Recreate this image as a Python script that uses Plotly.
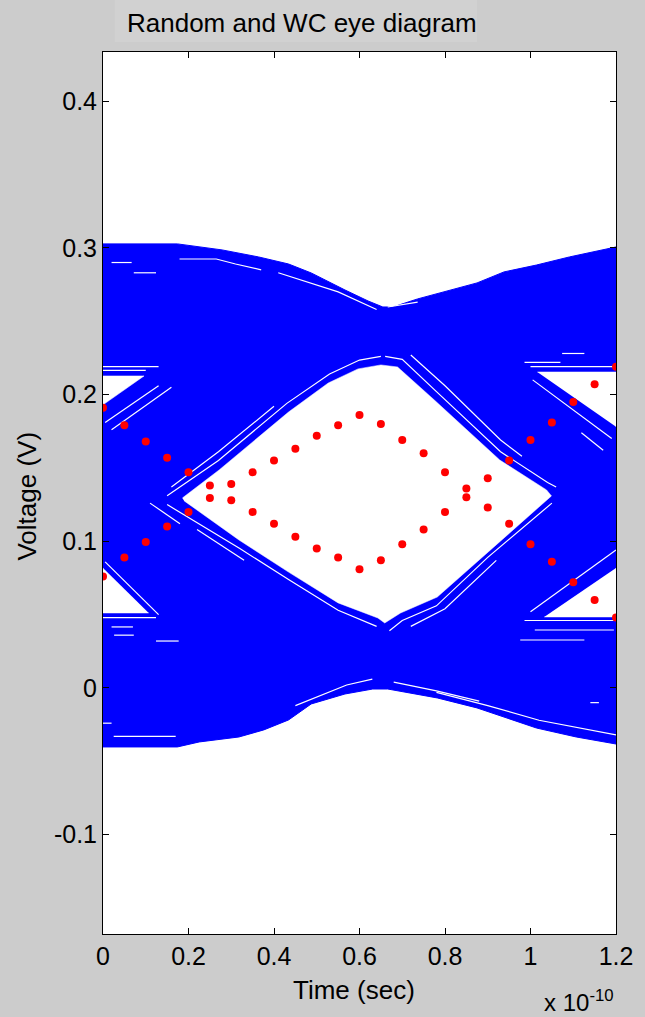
import plotly.graph_objects as go

# ---------------- data ----------------
# worst-case (WC) eye contour points, time in units of 1e-10 s
wc_time = [0, 0.05, 0.1, 0.15, 0.2, 0.25, 0.3, 0.35, 0.4, 0.45, 0.5, 0.55, 0.6,
           0.65, 0.7, 0.75, 0.8, 0.85, 0.9, 0.95, 1.0, 1.05, 1.1, 1.15, 1.2]
wc_upper = [0.191, 0.179, 0.168, 0.157, 0.147, 0.138, 0.139, 0.147, 0.155, 0.163,
            0.172, 0.179, 0.186, 0.180, 0.169, 0.160, 0.147, 0.136, 0.143, 0.155,
            0.169, 0.181, 0.195, 0.207, 0.219]
wc_lower = [0.076, 0.089, 0.0995, 0.110, 0.120, 0.1295, 0.128, 0.120, 0.112, 0.103,
            0.095, 0.089, 0.081, 0.087, 0.098, 0.108, 0.120, 0.130, 0.123, 0.112,
            0.098, 0.086, 0.072, 0.060, 0.048]

# outer envelope of the random eye traces
env_top_x = [0, 0.174, 0.2785, 0.364, 0.434, 0.487, 0.566, 0.620, 0.6545, 0.678,
             0.736, 0.798, 0.875, 0.938, 1.014, 1.091, 1.2]
env_top_y = [0.3027, 0.3027, 0.2986, 0.2938, 0.289, 0.2829, 0.2713, 0.2638, 0.2597,
             0.2597, 0.2652, 0.270, 0.2761, 0.2836, 0.2883, 0.2938, 0.3006]
env_bot_x = [0, 0.174, 0.225, 0.318, 0.376, 0.434, 0.487, 0.566, 0.631, 0.666,
             0.7195, 0.782, 0.875, 1.014, 1.107, 1.2]
env_bot_y = [-0.0402, -0.0402, -0.0368, -0.0334, -0.0286, -0.0218, -0.0109, -0.0041,
             -0.0007, -0.0007, -0.0034, -0.0068, -0.0136, -0.0273, -0.0334, -0.0382]

# central eye opening
eye_x = [0.1857, 0.2716, 0.434, 0.527, 0.5965, 0.650, 0.689, 0.775, 0.928, 1.0375,
         1.049, 0.782, 0.696, 0.659, 0.643, 0.550, 0.434, 0.318, 0.190]
eye_y = [0.1295, 0.1486, 0.1881, 0.2079, 0.2175, 0.2202, 0.2188, 0.1963, 0.1554, 0.135,
         0.1309, 0.062, 0.0511, 0.0443, 0.0477, 0.058, 0.079, 0.1009, 0.1275]

# partial eye openings at the edges
ul_x = [0, 0.096, 0]
ul_y = [0.2127, 0.2127, 0.1930]
ll_x = [0, 0, 0.107]
ll_y = [0.0818, 0.0511, 0.0511]
ur_x = [1.016, 1.2, 1.2]
ur_y = [0.2154, 0.2154, 0.178]
lr_x = [1.032, 1.2, 1.2]
lr_y = [0.0484, 0.0484, 0.0818]

# thin gaps between individual traces (white streaks)
streaks = [
    [(0.02, 0.290), (0.067, 0.290)],
    [(0.072, 0.283), (0.124, 0.283)],
    [(0.179, 0.2924), (0.265, 0.2924), (0.31, 0.289), (0.37, 0.285)],
    [(0.41, 0.283), (0.55, 0.270), (0.64, 0.258)],
    [(0.666, 0.2597), (0.736, 0.263)],
    [(0.15, 0.131), (0.27, 0.155), (0.43, 0.194), (0.53, 0.214), (0.60, 0.2235), (0.65, 0.226)],
    [(0.16, 0.137), (0.27, 0.161), (0.40, 0.192)],
    [(0.66, 0.226), (0.70, 0.224), (0.78, 0.202), (0.93, 0.161), (1.04, 0.140), (1.06, 0.137)],
    [(0.72, 0.227), (0.80, 0.206), (0.93, 0.169), (0.98, 0.158)],
    [(0.15, 0.125), (0.32, 0.095), (0.434, 0.074), (0.55, 0.053), (0.64, 0.042)],
    [(0.22, 0.108), (0.33, 0.087)],
    [(0.11, 0.126), (0.18, 0.112)],
    [(0.67, 0.039), (0.70, 0.046), (0.78, 0.056), (0.90, 0.089), (1.05, 0.126)],
    [(0.72, 0.042), (0.80, 0.054), (0.92, 0.087)],
    [(0.005, 0.181), (0.13, 0.206)],
    [(0.02, 0.176), (0.16, 0.205)],
    [(0.0, 0.219), (0.13, 0.219)],
    [(0.0, 0.2165), (0.10, 0.2165)],
    [(0.005, 0.086), (0.13, 0.050)],
    [(0.0, 0.048), (0.124, 0.048)],
    [(0.02, 0.0416), (0.07, 0.0416)],
    [(0.026, 0.036), (0.072, 0.036)],
    [(0.124, 0.032), (0.177, 0.032)],
    [(1.074, 0.228), (1.126, 0.228)],
    [(0.986, 0.222), (1.07, 0.222)],
    [(1.0, 0.219), (1.195, 0.219)],
    [(1.005, 0.210), (1.19, 0.170)],
    [(1.119, 0.174), (1.17, 0.162)],
    [(0.986, 0.046), (1.195, 0.046)],
    [(1.01, 0.0395), (1.195, 0.0395)],
    [(0.976, 0.0327), (1.126, 0.0327)],
    [(1.0, 0.052), (1.2, 0.094)],
    [(0.0, -0.024), (0.02, -0.024)],
    [(0.025, -0.033), (0.17, -0.033)],
    [(0.45, -0.012), (0.57, 0.002), (0.63, 0.006)],
    [(0.68, 0.004), (0.78, -0.002), (0.88, -0.009)],
    [(0.78, -0.003), (0.9, -0.012), (1.02, -0.022), (1.2, -0.032)],
    [(1.14, -0.010), (1.16, -0.010)],
]

x_ticks = [0, 0.2, 0.4, 0.6, 0.8, 1.0, 1.2]
x_tick_labels = ["0", "0.2", "0.4", "0.6", "0.8", "1", "1.2"]
y_ticks = [-0.1, 0, 0.1, 0.2, 0.3, 0.4]
y_tick_labels = ["-0.1", "0", "0.1", "0.2", "0.3", "0.4"]

# ---------------- figure ----------------
FONT = "Liberation Sans, Arial, sans-serif"
BLUE = "#0000ff"

fig = go.Figure()

# blue band of random traces
fig.add_trace(go.Scatter(
    x=env_top_x + env_bot_x[::-1], y=env_top_y + env_bot_y[::-1],
    mode="lines", fill="toself", fillcolor=BLUE, line=dict(color=BLUE, width=1),
    hoverinfo="skip", showlegend=False))

# eye openings (white)
for ex, ey in [(eye_x, eye_y), (ul_x, ul_y), (ll_x, ll_y), (ur_x, ur_y), (lr_x, lr_y)]:
    fig.add_trace(go.Scatter(
        x=ex, y=ey, mode="lines", fill="toself", fillcolor="white",
        line=dict(color="white", width=0.5), hoverinfo="skip", showlegend=False))

# streaks
sx, sy = [], []
for s in streaks:
    for px, py in s:
        sx.append(px)
        sy.append(py)
    sx.append(None)
    sy.append(None)
fig.add_trace(go.Scatter(x=sx, y=sy, mode="lines", line=dict(color="white", width=1.2),
                         hoverinfo="skip", showlegend=False))

# worst-case points
fig.add_trace(go.Scatter(x=wc_time + wc_time, y=wc_upper + wc_lower, mode="markers",
                         marker=dict(color="#ff0000", size=8, line=dict(width=0)),
                         showlegend=False))

axis_common = dict(showgrid=False, zeroline=False, showline=True, linecolor="black",
                   linewidth=1, mirror="ticks", ticks="inside", ticklen=6,
                   tickcolor="black", tickwidth=1,
                   tickfont=dict(family=FONT, size=25, color="black"))

fig.update_layout(
    width=645, height=1017,
    margin=dict(l=103, r=22, t=52, b=83),
    paper_bgcolor="#cccccc", plot_bgcolor="white",
    xaxis=dict(range=[0, 1.2], tickvals=x_ticks, ticktext=x_tick_labels, **axis_common),
    yaxis=dict(range=[-0.1677, 0.4335], tickvals=y_ticks, ticktext=y_tick_labels,
               **axis_common),
    shapes=[dict(type="rect", xref="paper", yref="paper", x0=0.023, x1=0.729,
                 y0=1.0113, y1=1.07, fillcolor="#d1d1d1", line=dict(width=0),
                 layer="below")],
    annotations=[
        dict(text="Random and WC eye diagram", xref="paper", yref="paper",
             x=0.387, y=1.0329, xanchor="center", yanchor="middle", showarrow=False,
             font=dict(family=FONT, size=26, color="black")),
        dict(text="Time (sec)", xref="paper", yref="paper", x=0.49, y=-0.0635,
             xanchor="center", yanchor="middle", showarrow=False,
             font=dict(family=FONT, size=26, color="black")),
        dict(text="x 10<sup>-10</sup>", xref="paper", yref="paper", x=0.855, y=-0.0755,
             xanchor="left", yanchor="middle", showarrow=False,
             font=dict(family=FONT, size=24, color="black")),
        dict(text="Voltage (V)", xref="paper", yref="paper", x=-0.149, y=0.4966,
             xanchor="center", yanchor="middle", textangle=-90, showarrow=False,
             font=dict(family=FONT, size=26, color="black")),
    ],
)

fig.write_html("out.html",
               config={"displayModeBar": False},
               post_script="document.body.style.margin='0';"
                           "document.body.style.padding='0';"
                           "document.body.style.overflow='hidden';")
